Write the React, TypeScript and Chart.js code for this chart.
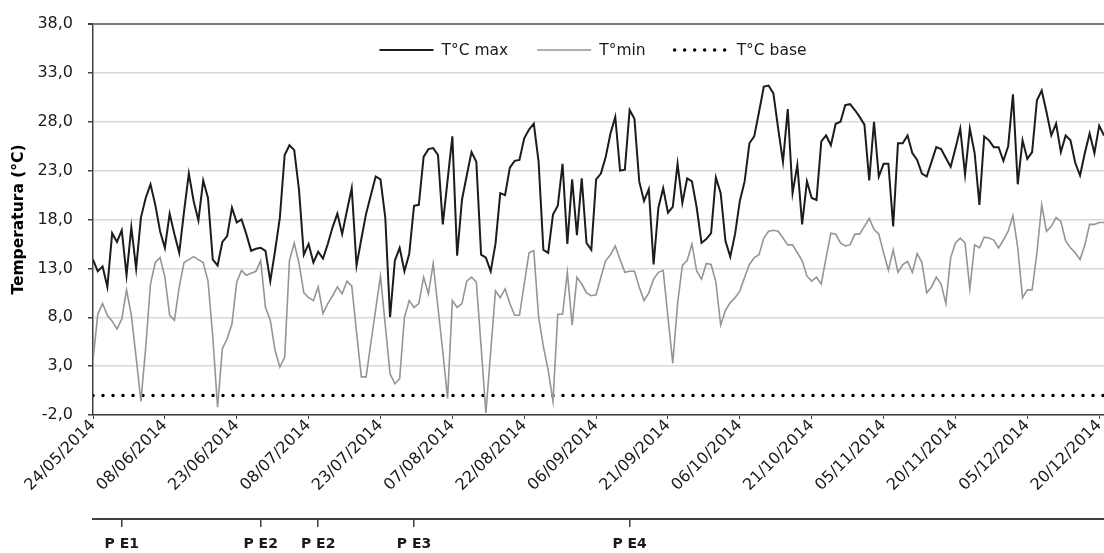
import React, { useEffect, useRef } from 'react';
import { Chart, registerables } from 'chart.js';

Chart.register(...registerables);

// Daily series, day 0 = 24/05/2014
const tMax: number[] = [
  13.9, 12.7, 13.2, 11.1, 16.6, 15.7, 16.9, 12.3, 17.2, 13.0,
  18.2, 20.2, 21.6, 19.5, 16.8, 15.1, 18.6, 16.5, 14.6, 18.8,
  22.7, 19.9, 17.9, 22.0, 20.2, 13.9, 13.3, 15.7, 16.3, 19.2,
  17.7, 18.0, 16.5, 14.8, 15.0, 15.1, 14.8, 11.7, 14.8, 18.2,
  24.6, 25.6, 25.1, 21.0, 14.4, 15.5, 13.6, 14.7, 14.0, 15.5,
  17.2, 18.6, 16.5, 18.9, 21.2, 13.3, 16.0, 18.6, 20.5, 22.4,
  22.1, 18.2, 8.0, 13.8, 15.1, 12.7, 14.5, 19.4, 19.5, 24.4,
  25.2, 25.3, 24.6, 17.5, 22.0, 26.5, 14.3, 20.0, 22.5, 24.9,
  23.9, 14.4, 14.1, 12.7, 15.5, 20.7, 20.5, 23.3, 24.0, 24.1,
  26.3, 27.2, 27.8, 23.9, 14.9, 14.6, 18.5, 19.4, 23.7, 15.5,
  22.1, 16.4, 22.2, 15.6, 14.9, 22.1, 22.7, 24.4, 26.8, 28.5,
  23.0, 23.1, 29.2, 28.3, 21.9, 19.9, 21.1, 13.4, 19.2, 21.2,
  18.7, 19.3, 23.7, 19.7, 22.2, 21.9, 19.2, 15.6, 16.0, 16.6,
  22.3, 20.7, 15.8, 14.2, 16.5, 19.9, 21.9, 25.8, 26.5, 29.0,
  31.6, 31.7, 30.9, 27.3, 23.9, 29.3, 20.7, 23.6, 17.5, 21.9,
  20.2, 20.0, 26.0, 26.6, 25.6, 27.8, 28.0, 29.7, 29.8, 29.2,
  28.5, 27.7, 22.0, 28.0, 22.4, 23.7, 23.7, 17.3, 25.8, 25.8,
  26.6, 24.8, 24.1, 22.7, 22.4, 23.9, 25.4, 25.2, 24.3, 23.4,
  25.3, 27.3, 22.6, 27.3, 24.8, 19.5, 26.5, 26.1, 25.4, 25.4,
  24.0, 25.5, 30.8, 21.6, 26.1, 24.2, 24.9, 30.2, 31.2, 29.0,
  26.6, 27.8, 24.9, 26.6, 26.1, 23.8, 22.5, 24.8, 26.8, 24.8,
  27.6, 26.6,
];

const tMin: number[] = [
  3.6, 8.3, 9.4, 8.2, 7.6, 6.8, 7.8, 10.8, 8.2, 3.9,
  -0.6, 4.9, 11.4, 13.6, 14.1, 12.1, 8.2, 7.7, 11.1, 13.6,
  13.9, 14.2, 13.9, 13.6, 11.7, 6.0, -1.2, 4.8, 5.8, 7.3,
  11.6, 12.8, 12.3, 12.5, 12.7, 13.8, 9.0, 7.7, 4.6, 2.9,
  3.9, 13.8, 15.6, 13.5, 10.5, 10.0, 9.7, 11.1, 8.4, 9.4,
  10.2, 11.1, 10.4, 11.7, 11.2, 6.5, 1.9, 1.9, 5.4, 8.8,
  12.2, 7.2, 2.2, 1.2, 1.7, 8.0, 9.7, 9.0, 9.4, 12.1,
  10.4, 13.5, 9.0, 4.5, -0.3, 9.7, 9.0, 9.4, 11.7, 12.1,
  11.6, 5.0, -1.8, 4.5, 10.7, 10.0, 10.9, 9.4, 8.2, 8.2,
  11.4, 14.6, 14.8, 8.0, 5.0, 2.6, -0.6, 8.3, 8.3, 12.6,
  7.2, 12.1, 11.4, 10.5, 10.2, 10.3, 12.1, 13.8, 14.4, 15.3,
  13.9, 12.6, 12.7, 12.7, 11.1, 9.7, 10.5, 11.9, 12.6, 12.8,
  8.0, 3.3, 9.4, 13.3, 13.8, 15.5, 12.7, 11.9, 13.5, 13.4,
  11.6, 7.2, 8.7, 9.5, 10.0, 10.7, 12.1, 13.4, 14.1, 14.4,
  16.1, 16.8, 16.9, 16.8, 16.1, 15.4, 15.4, 14.6, 13.8, 12.2,
  11.7, 12.1, 11.4, 14.1, 16.6, 16.5, 15.6, 15.3, 15.4, 16.5,
  16.5, 17.3, 18.1, 17.0, 16.5, 14.6, 12.8, 14.9, 12.6, 13.4,
  13.7, 12.6, 14.5, 13.6, 10.5, 11.1, 12.1, 11.4, 9.4, 14.1,
  15.6, 16.1, 15.6, 10.9, 15.4, 15.1, 16.2, 16.1, 15.9, 15.1,
  15.9, 16.8, 18.4, 15.1, 10.0, 10.8, 10.8, 14.6, 19.5, 16.8,
  17.3, 18.2, 17.8, 15.8, 15.1, 14.6, 13.9, 15.4, 17.5, 17.5,
  17.7, 17.7,
];

// Base temperature: constant line from first to last day
const baseDays: number[] = [0, 211];
const baseValues: number[] = [0, 0];

// X axis ticks (every 15 days) and their labels
const tickDays: number[] = [0, 15, 30, 45, 60, 75, 90, 105, 120, 135, 150, 165, 180, 195, 210];
const tickLabels: string[] = [
  '24/05/2014', '08/06/2014', '23/06/2014', '08/07/2014', '23/07/2014',
  '07/08/2014', '22/08/2014', '06/09/2014', '21/09/2014', '06/10/2014',
  '21/10/2014', '05/11/2014', '20/11/2014', '05/12/2014', '20/12/2014',
];

// Y axis ticks
const yTickValues: number[] = [-2, 3, 8, 13, 18, 23, 28, 33, 38];
const yTickLabels: string[] = ['-2,0', '3,0', '8,0', '13,0', '18,0', '23,0', '28,0', '33,0', '38,0'];

// Phenological stage markers
const peDays: number[] = [6, 35, 47, 67, 112];
const peLabels: string[] = ['P E1', 'P E2', 'P E2', 'P E3', 'P E4'];

const FONT = "'DejaVu Sans', sans-serif";
const TEXT = '#1a1a1a';
const AXIS = '#404040';

const insideLegend = {
  id: 'insideLegend',
  afterDraw(chart: any) {
    const { ctx, chartArea } = chart;
    const ds = chart.data.datasets;
    ctx.save();
    ctx.font = `15.5px ${FONT}`;
    const sampleW = 55;
    const gapText = 8;
    const gapItem = 28;
    const widths = ds.map((d: any) => ctx.measureText(d.label).width);
    let total = 0;
    widths.forEach((w: number, i: number) => {
      total += sampleW + gapText + w + (i > 0 ? gapItem : 0);
    });
    const cx = (chartArea.left + chartArea.right) / 2 - 6;
    const y = chartArea.top + 26;
    let x = cx - total / 2;
    ds.forEach((d: any, i: number) => {
      ctx.save();
      ctx.strokeStyle = d.borderColor;
      ctx.lineWidth = d.borderWidth;
      ctx.lineCap = d.borderCapStyle || 'butt';
      ctx.setLineDash(d.borderDash || []);
      ctx.beginPath();
      ctx.moveTo(x + 1, y);
      ctx.lineTo(x + sampleW, y);
      ctx.stroke();
      ctx.restore();
      ctx.fillStyle = TEXT;
      ctx.textBaseline = 'middle';
      ctx.textAlign = 'left';
      ctx.fillText(d.label, x + sampleW + gapText, y + 1);
      x += sampleW + gapText + widths[i] + gapItem;
    });
    ctx.restore();
  },
};

export default function App() {
  const canvasRef = useRef<HTMLCanvasElement | null>(null);

  useEffect(() => {
    if (!canvasRef.current) return;
    Chart.defaults.font.family = FONT;
    const chart = new Chart(canvasRef.current, {
      type: 'line',
      data: {
        datasets: [
          {
            label: 'T°C max',
            data: tMax.map((v, i) => ({ x: i, y: v })),
            borderColor: '#1c1c1c',
            borderWidth: 2,
            pointRadius: 0,
            tension: 0,
            xAxisID: 'x',
            yAxisID: 'y',
          },
          {
            label: 'T°min',
            data: tMin.map((v, i) => ({ x: i, y: v })),
            borderColor: '#959595',
            borderWidth: 1.6,
            pointRadius: 0,
            tension: 0,
            xAxisID: 'x',
            yAxisID: 'y',
          },
          {
            label: 'T°C base',
            data: baseDays.map((d, i) => ({ x: d, y: baseValues[i] })),
            borderColor: '#000000',
            borderWidth: 3.5,
            borderDash: [0, 10],
            borderCapStyle: 'round',
            pointRadius: 0,
            tension: 0,
            xAxisID: 'x',
            yAxisID: 'y',
          },
        ],
      },
      options: {
        animation: false,
        responsive: false,
        maintainAspectRatio: false,
        layout: { padding: { top: 24, left: 0, right: 0, bottom: 0 } },
        plugins: {
          legend: { display: false },
          tooltip: { enabled: false },
        },
        scales: {
          x: {
            type: 'linear',
            position: 'bottom',
            weight: 0,
            min: 0,
            max: 211,
            afterBuildTicks: (s: any) => {
              s.ticks = tickDays.map((v) => ({ value: v }));
            },
            afterFit: (s: any) => {
              s.height = 104;
              s.paddingLeft = 0;
              s.paddingRight = 0;
            },
            grid: {
              drawOnChartArea: false,
              drawTicks: true,
              tickLength: 4,
              tickColor: AXIS,
              color: AXIS,
              lineWidth: 1,
            },
            border: { display: true, color: AXIS, width: 1.5 },
            ticks: {
              autoSkip: false,
              minRotation: 45,
              maxRotation: 45,
              padding: -3,
              color: TEXT,
              font: { family: FONT, size: 16 },
              callback: (_v: any, i: number) => tickLabels[i],
            },
          },
          xe: {
            type: 'linear',
            position: 'bottom',
            weight: 1,
            min: 0,
            max: 211,
            afterBuildTicks: (s: any) => {
              s.ticks = peDays.map((v) => ({ value: v }));
            },
            afterFit: (s: any) => {
              s.height = 34;
              s.paddingLeft = 0;
              s.paddingRight = 0;
            },
            grid: {
              drawOnChartArea: false,
              drawTicks: true,
              tickLength: 8,
              tickColor: AXIS,
              color: AXIS,
              lineWidth: 1.5,
            },
            border: { display: true, color: AXIS, width: 2 },
            ticks: {
              autoSkip: false,
              minRotation: 0,
              maxRotation: 0,
              padding: 9,
              color: TEXT,
              font: { family: FONT, size: 14, weight: 'bold' },
              callback: (_v: any, i: number) => peLabels[i],
            },
          },
          y: {
            type: 'linear',
            position: 'left',
            min: -2,
            max: 38,
            afterBuildTicks: (s: any) => {
              s.ticks = yTickValues.map((v) => ({ value: v }));
            },
            afterFit: (s: any) => {
              s.width = 93;
              s.paddingTop = 0;
              s.paddingBottom = 0;
            },
            grid: {
              color: (c: any) => (c.index === yTickValues.length - 1 ? '#7a7a7a' : '#d9d9d9'),
              lineWidth: (c: any) => (c.index === yTickValues.length - 1 ? 2 : 1.5),
              tickColor: AXIS,
              tickLength: 5,
              drawTicks: true,
            },
            border: { display: true, color: AXIS, width: 1.5 },
            ticks: {
              padding: 15,
              color: TEXT,
              font: { family: FONT, size: 16 },
              callback: (_v: any, i: number) => yTickLabels[i],
            },
            title: {
              display: true,
              text: 'Temperatura (°C)',
              color: '#000000',
              font: { family: FONT, size: 15.5, weight: 'bold' },
              padding: { top: 10, bottom: 0 },
            },
          },
        },
      },
      plugins: [insideLegend],
    } as any);
    return () => chart.destroy();
  }, []);

  return (
    <canvas
      ref={canvasRef}
      width={1104}
      height={553}
      style={{ position: 'absolute', left: 0, top: 0, width: 1104, height: 553, display: 'block' }}
    />
  );
}
